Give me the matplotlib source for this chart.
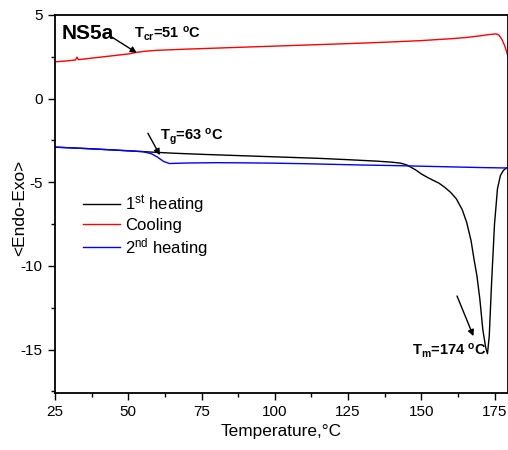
import numpy as np
import matplotlib
matplotlib.use("Agg")
import matplotlib.pyplot as plt

plt.rcParams['font.family'] = ['Liberation Sans', 'DejaVu Sans']
plt.rcParams['mathtext.fontset'] = 'custom'
plt.rcParams['mathtext.rm'] = 'Liberation Sans'
plt.rcParams['mathtext.bf'] = 'Liberation Sans:bold'
plt.rcParams['mathtext.it'] = 'Liberation Sans:italic'
plt.rcParams['axes.unicode_minus'] = False

# 1st heating (black)
t_heat1 = [25, 35, 45, 55, 65, 75, 85, 95, 105, 115, 125, 135, 140, 143, 145, 148,
           150, 152, 154, 156, 158, 160, 162, 164, 165.5, 167, 168, 169, 170, 171,
           172, 172.6, 173.2, 174, 175, 176, 177, 178, 179, 180]
y_heat1 = [-2.9, -2.98, -3.07, -3.17, -3.26, -3.33, -3.39, -3.45, -3.51, -3.57,
           -3.65, -3.74, -3.8, -3.86, -3.96, -4.25, -4.5, -4.7, -4.88, -5.05, -5.3,
           -5.6, -6.0, -6.65, -7.4, -8.5, -9.6, -10.6, -12.0, -13.8, -14.9, -15.25,
           -14.2, -11.0, -7.5, -5.4, -4.6, -4.3, -4.15, -4.1]

# Cooling (red)
t_cool = [25, 28, 31, 32, 32.5, 33, 36, 40, 45, 50, 53, 56, 60, 70, 80, 90, 100,
          110, 120, 130, 140, 150, 160, 165, 170, 173, 175.5, 176.5, 177.5, 178.5,
          179.3, 180]
y_cool = [2.2, 2.24, 2.29, 2.31, 2.48, 2.33, 2.39, 2.47, 2.57, 2.67, 2.77, 2.84,
          2.89, 2.96, 3.02, 3.08, 3.14, 3.2, 3.26, 3.32, 3.39, 3.47, 3.58, 3.65,
          3.75, 3.83, 3.87, 3.8, 3.55, 3.15, 2.7, 2.3]

# 2nd heating (blue)
t_heat2 = [25, 35, 45, 55, 58, 60, 62, 64, 70, 80, 90, 100, 110, 120, 130, 140,
           150, 160, 170, 180]
y_heat2 = [-2.9, -2.98, -3.07, -3.17, -3.3, -3.5, -3.75, -3.88, -3.85, -3.83,
           -3.84, -3.86, -3.89, -3.93, -3.97, -4.0, -4.04, -4.08, -4.12, -4.15]

xticks = [25, 50, 75, 100, 125, 150, 175]
yticks = [5, 0, -5, -10, -15]

fig = plt.figure(figsize=(5.08, 4.5), dpi=100)
ax = fig.add_axes([55/508, 1-393/450, 453/508, 378/450])

ax.plot(t_heat1, y_heat1, color='black', lw=1.0, label='1$^{\\mathrm{st}}$ heating')
ax.plot(t_cool, y_cool, color='red', lw=1.0, label='Cooling')
ax.plot(t_heat2, y_heat2, color='blue', lw=1.0, label='2$^{\\mathrm{nd}}$ heating')

ax.set_xlim(25, 179.6)
ax.set_ylim(-17.6, 5)
ax.set_xticks(xticks)
ax.set_yticks(yticks)
ax.set_xticks(np.arange(37.5, 180, 25), minor=True)
ax.set_yticks(np.arange(-17.5, 5, 5), minor=True)
ax.tick_params(which='both', direction='out', top=False, right=False, labelsize=11)
ax.tick_params(which='major', length=5, width=1, pad=4)
ax.tick_params(which='minor', length=3, width=1)
for s in ax.spines.values():
    s.set_linewidth(1.3)

ax.set_xlabel('Temperature,°C', fontsize=12.4, labelpad=3)
ax.set_ylabel('<Endo-Exo>', fontsize=12.4, va='center')
ax.yaxis.set_label_coords(-0.077, 0.49)

leg = ax.legend(loc='center left', bbox_to_anchor=(0.062, 0.442), frameon=False,
                fontsize=12, handlelength=2.2, handletextpad=0.3,
                labelspacing=0.15, borderpad=0, borderaxespad=0)

ax.text(27.4, 3.92, 'NS5a', fontsize=15, fontweight='bold', va='center', ha='left')

arrow = dict(arrowstyle='-|>', color='black', lw=1.0, mutation_scale=9,
             shrinkA=0, shrinkB=0)
ax.annotate('', xy=(52.9, 2.74), xytext=(44.4, 3.68), arrowprops=arrow)
ax.text(52.0, 3.85, r'T$_{\mathbf{cr}}$=51 $^{\mathbf{o}}$C', fontsize=10.5,
        fontweight='bold', va='center', ha='left')

ax.annotate('', xy=(60.8, -3.38), xytext=(56.7, -2.07), arrowprops=arrow)
ax.text(61.0, -2.3, r'T$_{\mathbf{g}}$=63 $^{\mathbf{o}}$C', fontsize=10.5,
        fontweight='bold', va='center', ha='left')

ax.annotate('', xy=(167.8, -14.2), xytext=(162.2, -11.8), arrowprops=arrow)
ax.text(172.3, -15.05, r'T$_{\mathbf{m}}$=174 $^{\mathbf{o}}$C', fontsize=10.5,
        fontweight='bold', va='center', ha='right')

fig.savefig('out.png', dpi=100)
